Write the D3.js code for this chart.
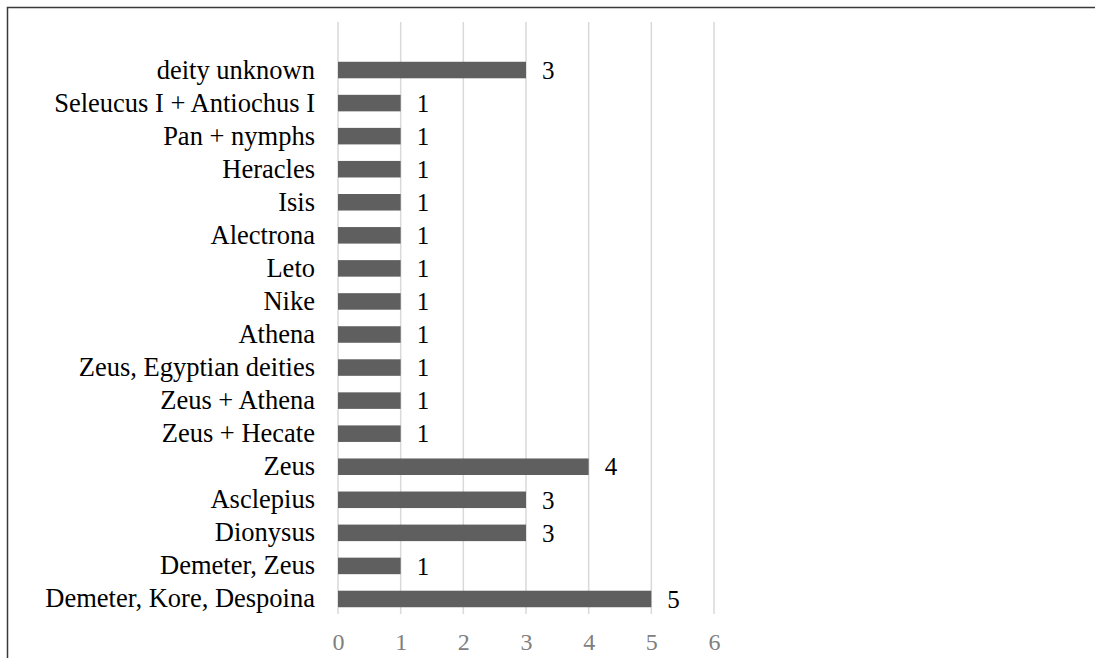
<!DOCTYPE html>
<html>
<head>
<meta charset="utf-8">
<script src="https://cdn.jsdelivr.net/npm/d3@7"></script>
<style>
  body { margin: 0; background: #fff; }
  svg { display: block; }
</style>
</head>
<body>
<svg id="chart" width="1095" height="658"></svg>
<script>
// categories top to bottom
const deities = [
  "deity unknown", "Seleucus I + Antiochus I", "Pan + nymphs", "Heracles", "Isis",
  "Alectrona", "Leto", "Nike", "Athena", "Zeus, Egyptian deities", "Zeus + Athena",
  "Zeus + Hecate", "Zeus", "Asclepius", "Dionysus", "Demeter, Zeus", "Demeter, Kore, Despoina"
];
const counts = [3, 1, 1, 1, 1, 1, 1, 1, 1, 1, 1, 1, 4, 3, 3, 1, 5];
const xTicks = [0, 1, 2, 3, 4, 5, 6];

const rows = deities.map((d, i) => ({ name: d, value: counts[i] }));

const svg = d3.select("#chart");
const font = "'Liberation Serif', 'Times New Roman', serif";

// outer frame (only top and left visible)
svg.append("rect")
  .attr("x", 7.5).attr("y", 7.5)
  .attr("width", 1200).attr("height", 800)
  .attr("fill", "none")
  .attr("stroke", "#3a3a3a")
  .attr("stroke-width", 1.5);

const x = d3.scaleLinear().domain([0, 6]).range([338, 714]);
const y = d3.scaleBand().domain(deities).range([53.5, 615.5]).paddingInner(0.5).paddingOuter(0.25);

const gridTop = 22, gridBottom = 614;

// gridlines
svg.append("g")
  .selectAll("line")
  .data(xTicks)
  .join("line")
  .attr("x1", d => x(d)).attr("x2", d => x(d))
  .attr("y1", gridTop).attr("y2", gridBottom)
  .attr("stroke", "#d9d9d9")
  .attr("stroke-width", 1.5);

// bars
svg.append("g")
  .selectAll("rect")
  .data(rows)
  .join("rect")
  .attr("x", x(0))
  .attr("y", d => y(d.name))
  .attr("width", d => x(d.value) - x(0))
  .attr("height", y.bandwidth())
  .attr("fill", "#5f5f5f");

// value labels
svg.append("g")
  .selectAll("text")
  .data(rows)
  .join("text")
  .attr("x", d => x(d.value) + 16)
  .attr("y", d => y(d.name) + y.bandwidth() / 2)
  .attr("dy", "0.35em")
  .attr("font-family", font)
  .attr("font-size", 25)
  .attr("fill", "#000")
  .text(d => d.value);

// category labels
const yAxis = svg.append("g")
  .attr("transform", `translate(${x(0)},0)`)
  .call(d3.axisLeft(y).tickSize(0).tickPadding(23));
yAxis.select(".domain").remove();
yAxis.selectAll("text")
  .attr("font-family", font)
  .attr("font-size", 26.5)
  .attr("fill", "#000");

// x tick labels
const xAxis = svg.append("g")
  .attr("transform", `translate(0,${gridBottom})`)
  .call(d3.axisBottom(x).tickValues(xTicks).tickSize(0).tickPadding(19).tickFormat(d3.format("d")));
xAxis.select(".domain").remove();
xAxis.selectAll("text")
  .attr("font-family", font)
  .attr("font-size", 24)
  .attr("fill", "#808080");
</script>
</body>
</html>
